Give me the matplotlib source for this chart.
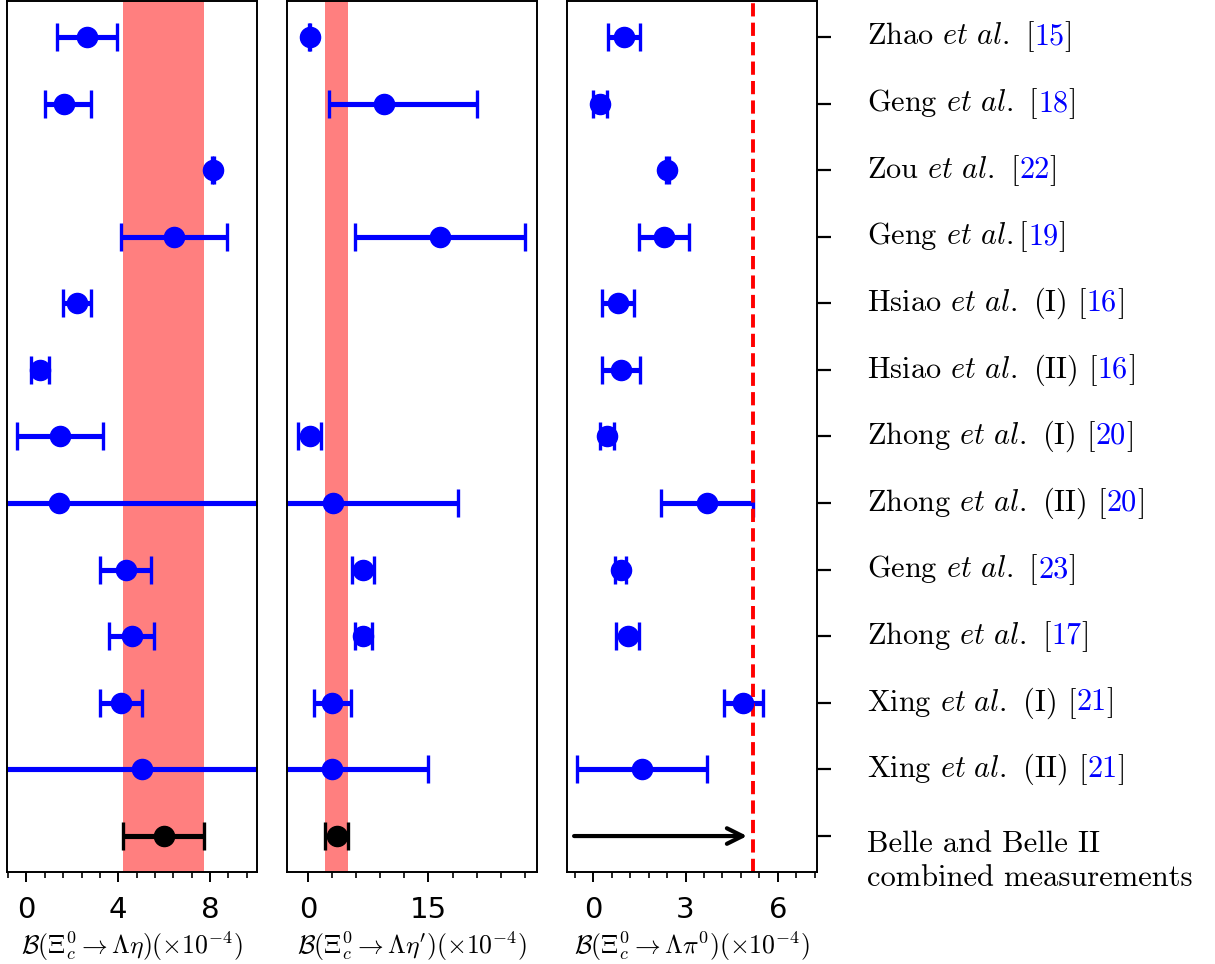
import numpy as np
import matplotlib
matplotlib.use("Agg")
import matplotlib.pyplot as plt
from matplotlib.ticker import MultipleLocator, AutoMinorLocator
from matplotlib.offsetbox import TextArea, HPacker, AnnotationBbox

plt.rcParams['mathtext.fontset'] = 'cm'
plt.rcParams['axes.unicode_minus'] = False

# rows from top to bottom
authors = [r"Zhao $et\ al.$ [", r"Geng $et\ al.$ [", r"Zou $et\ al.$ [", r"Geng $et\ al.$[",
           r"Hsiao $et\ al.$ (I) [", r"Hsiao $et\ al.$ (II) [", r"Zhong $et\ al.$ (I) [",
           r"Zhong $et\ al.$ (II) [", r"Geng $et\ al.$ [", r"Zhong $et\ al.$ [",
           r"Xing $et\ al.$ (I) [", r"Xing $et\ al.$ (II) ["]
refs = ["15", "18", "22", "19", "16", "16", "20", "20", "23", "17", "21", "21"]
belle_label = "Belle and Belle II\ncombined measurements"

# Lambda eta  (x 10^-4)
eta_val = [2.62, 1.65, 8.12, 6.43, 2.21, 0.60, 1.46, 1.41, 4.32, 4.58, 4.12, 5.02]
eta_lo  = [1.31, 0.85, 0.05, 2.31, 0.60, 0.40, 1.86, 12.0, 1.13, 0.98, 0.93, 6.5]
eta_hi  = [1.31, 1.15, 0.05, 2.31, 0.60, 0.40, 1.86, 12.0, 1.13, 0.98, 0.93, 6.5]
eta_exp, eta_exp_err = 5.98, 1.76

# Lambda eta'
etap_val = [0.21, 9.46, np.nan, 16.46, np.nan, np.nan, 0.21, 3.13, 6.80, 6.88, 3.05, 3.05]
etap_lo  = [0.10, 6.83, 0, 10.6, 0, 0, 1.46, 15.6, 1.37, 1.04, 2.30, 11.9]
etap_hi  = [0.10, 11.6, 0, 10.6, 0, 0, 1.46, 15.6, 1.37, 1.04, 2.30, 11.9]
etap_exp, etap_exp_err = 3.58, 1.40

# Lambda pi0
pi0_val = [1.00, 0.22, 2.41, 2.31, 0.81, 0.90, 0.44, 3.70, 0.90, 1.12, 4.88, 1.59]
pi0_err = [0.51, 0.22, 0.05, 0.81, 0.52, 0.61, 0.23, 1.50, 0.18, 0.38, 0.62, 2.10]
pi0_limit = 5.2

n = len(authors)
ypos = np.arange(n, 0, -1)

W, H = 1215, 964
fig = plt.figure(figsize=(W / 100, H / 100), dpi=100)

def px_axes(x0, x1, y0, y1):
    return fig.add_axes([x0 / W, 1 - y1 / H, (x1 - x0) / W, (y1 - y0) / H])

ax1 = px_axes(7, 257, 1, 872)
ax2 = px_axes(287, 537, 1, 872)
ax3 = px_axes(567, 817, 1, 872)

eb = dict(fmt='o', color='blue', ms=14.5, elinewidth=3.7, capsize=10, capthick=2.4)
ebk = dict(fmt='o', color='black', ms=14.5, elinewidth=3.7, capsize=10, capthick=2.4)

# panel 1
ax1.axvspan(eta_exp - eta_exp_err, eta_exp + eta_exp_err, color='red', alpha=0.5, lw=0)
ax1.errorbar(eta_val, ypos, xerr=[eta_lo, eta_hi], **eb)
ax1.errorbar([eta_exp], [0], xerr=[eta_exp_err], **ebk)
ax1.set_xlim(-0.85, 10.05)
ax1.xaxis.set_major_locator(MultipleLocator(4))
ax1.xaxis.set_minor_locator(AutoMinorLocator(5))
ax1.set_xlabel(r'$\mathcal{B}(\Xi_c^0\to\Lambda\eta)(\times10^{-4})$', fontsize=18.5)

# panel 2
ax2.axvspan(etap_exp - etap_exp_err, etap_exp + etap_exp_err, color='red', alpha=0.5, lw=0)
ax2.errorbar(etap_val, ypos, xerr=[etap_lo, etap_hi], **eb)
ax2.errorbar([etap_exp], [0], xerr=[etap_exp_err], **ebk)
ax2.set_xlim(-2.6, 28.5)
ax2.xaxis.set_major_locator(MultipleLocator(15))
ax2.xaxis.set_minor_locator(AutoMinorLocator(5))
ax2.set_xlabel(r"$\mathcal{B}(\Xi_c^0\to\Lambda\eta')(\times10^{-4})$", fontsize=18.5)

# panel 3
ax3.errorbar(pi0_val, ypos, xerr=pi0_err, **eb)
ax3.axvline(pi0_limit, color='red', ls='--', lw=2.8, dashes=(3.4, 1.6))
ax3.annotate('', xy=(5.0, 0), xytext=(-0.62, 0),
             arrowprops=dict(arrowstyle='->', color='black', lw=3, mutation_scale=28,
                             shrinkA=0, shrinkB=0))
ax3.set_xlim(-0.85, 7.27)
ax3.xaxis.set_major_locator(MultipleLocator(3))
ax3.xaxis.set_minor_locator(AutoMinorLocator(5))
ax3.set_xlabel(r'$\mathcal{B}(\Xi_c^0\to\Lambda\pi^0)(\times10^{-4})$', fontsize=18.5)

for ax in (ax1, ax2, ax3):
    ax.set_ylim(-0.54, 12.54)
    for s in ax.spines.values():
        s.set_linewidth(1.4)
    ax.tick_params(axis='x', which='major', labelsize=21, length=7, width=1.4, pad=10)
    ax.tick_params(axis='x', which='minor', length=4, width=1.2)
    ax.xaxis.labelpad = 4

ax1.set_yticks([])
ax2.set_yticks([])
ax3.set_yticks(np.arange(0, n + 1))
ax3.yaxis.tick_right()
ax3.tick_params(axis='y', which='major', length=10, width=1.6, labelright=False)
ax3.tick_params(axis='y', which='minor', right=False, left=False)

# right-side labels
ytr = ax3.get_yaxis_transform()
lab_x = 1.198
tp = dict(family='cmr10', size=21.8, color='black')
for y, a, r in zip(ypos, authors, refs):
    box = HPacker(children=[TextArea(a, textprops=tp),
                            TextArea(r, textprops=dict(tp, color='blue')),
                            TextArea("]", textprops=tp)],
                  align='baseline', pad=0, sep=0)
    ab = AnnotationBbox(box, (lab_x, y), xycoords=ytr, box_alignment=(0, 0.5),
                        frameon=False, pad=0, annotation_clip=False)
    ax3.add_artist(ab)
ax3.text(lab_x, 0.08, belle_label, transform=ytr, family='cmr10', size=22,
         ha='left', va='top', linespacing=1.3, clip_on=False)

fig.savefig('out.png', dpi=100)
